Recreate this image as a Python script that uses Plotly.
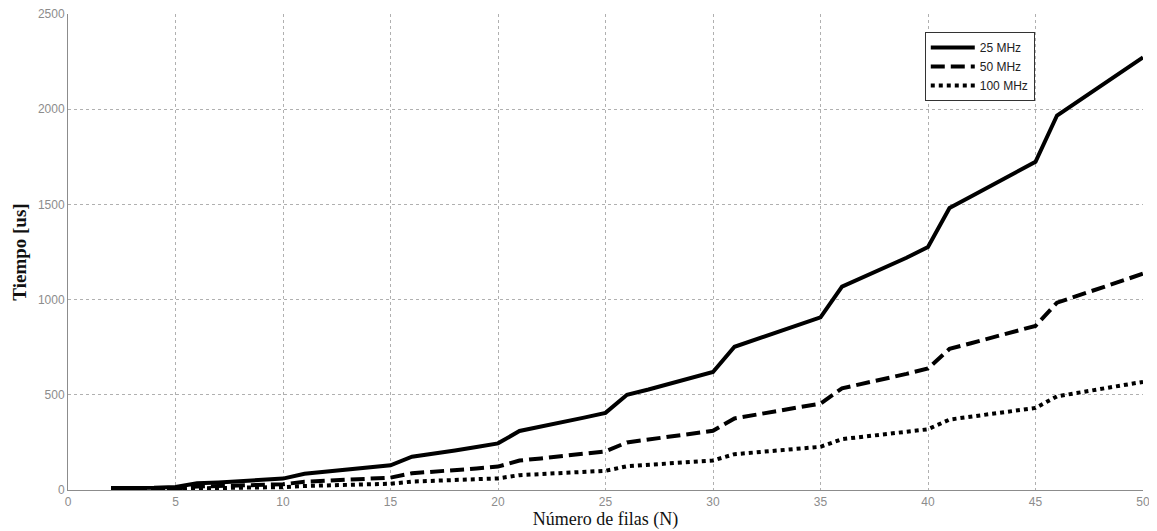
import plotly.graph_objects as go

N = list(range(2, 51))

t_25mhz = [10, 10, 12, 16, 35, 40, 46, 52, 60, 85, 95, 106, 118, 130, 175, 190, 208, 226, 245,
           310, 332, 355, 380, 405, 500, 528, 558, 590, 620, 752, 790, 828, 867, 907,
           1068, 1117, 1167, 1220, 1276, 1481, 1541, 1601, 1662, 1724, 1967, 2042, 2117, 2192, 2272]

t_50mhz = [5, 5, 6, 8, 18, 20, 23, 26, 30, 43, 48, 53, 59, 65, 88, 95, 104, 113, 123,
           155, 166, 178, 190, 203, 250, 264, 279, 295, 311, 376, 395, 414, 433, 454,
           534, 558, 584, 610, 638, 741, 771, 801, 831, 862, 984, 1021, 1059, 1096, 1136]

t_100mhz = [3, 3, 3, 4, 9, 10, 12, 13, 15, 21, 24, 27, 30, 33, 44, 48, 52, 57, 61,
            78, 83, 89, 95, 101, 125, 132, 140, 148, 155, 188, 198, 207, 217, 227,
            267, 279, 292, 305, 319, 370, 385, 400, 416, 431, 492, 511, 529, 548, 568]

series = [
    ("25 MHz", t_25mhz, "solid"),
    ("50 MHz", t_50mhz, "14px,6px"),
    ("100 MHz", t_100mhz, "4px,4px"),
]

fig = go.Figure()
for name, vals, dash in series:
    fig.add_trace(go.Scatter(
        x=N, y=vals, mode="lines", name=name,
        line=dict(color="black", width=4, dash=dash),
    ))

# page body has an 8px default margin, so the figure is offset by 8px
fig.update_layout(
    width=1149, height=523,
    margin=dict(l=60, r=14, t=6, b=41, autoexpand=False),
    paper_bgcolor="white", plot_bgcolor="white",
    showlegend=True,
    legend=dict(
        x=0.797, y=0.962, xanchor="left", yanchor="top",
        bgcolor="white", bordercolor="#333333", borderwidth=1,
        font=dict(family="Liberation Sans, Arial", size=12, color="#222222"),
        tracegroupgap=0, itemwidth=44,
    ),
)

fig.update_xaxes(
    range=[0, 50], dtick=5, tick0=0, automargin=False, ticklabeloverflow="allow",
    showgrid=True, gridcolor="#b0b0b0", griddash="dot", gridwidth=1,
    showline=True, linecolor="#8c8c8c", linewidth=1,
    zeroline=False, ticks="", ticklabelstandoff=1,
    tickfont=dict(family="Liberation Sans, Arial", size=12, color="#8c8c8c"),
    title=dict(text="Número de filas (N)", standoff=2,
               font=dict(family="Liberation Serif, Times New Roman", size=18, color="#111111")),
)
fig.update_yaxes(
    range=[0, 2500], dtick=500, tick0=0, automargin=False, ticklabeloverflow="allow",
    showgrid=True, gridcolor="#b0b0b0", griddash="dot", gridwidth=1,
    showline=True, linecolor="#8c8c8c", linewidth=1,
    zeroline=False, ticks="",
    tickfont=dict(family="Liberation Sans, Arial", size=12, color="#8c8c8c"),
    title=dict(text="<b>Tiempo [us]</b>", standoff=6,
               font=dict(family="Liberation Serif, Times New Roman", size=19, color="#111111")),
)

fig.write_html("out.html")
